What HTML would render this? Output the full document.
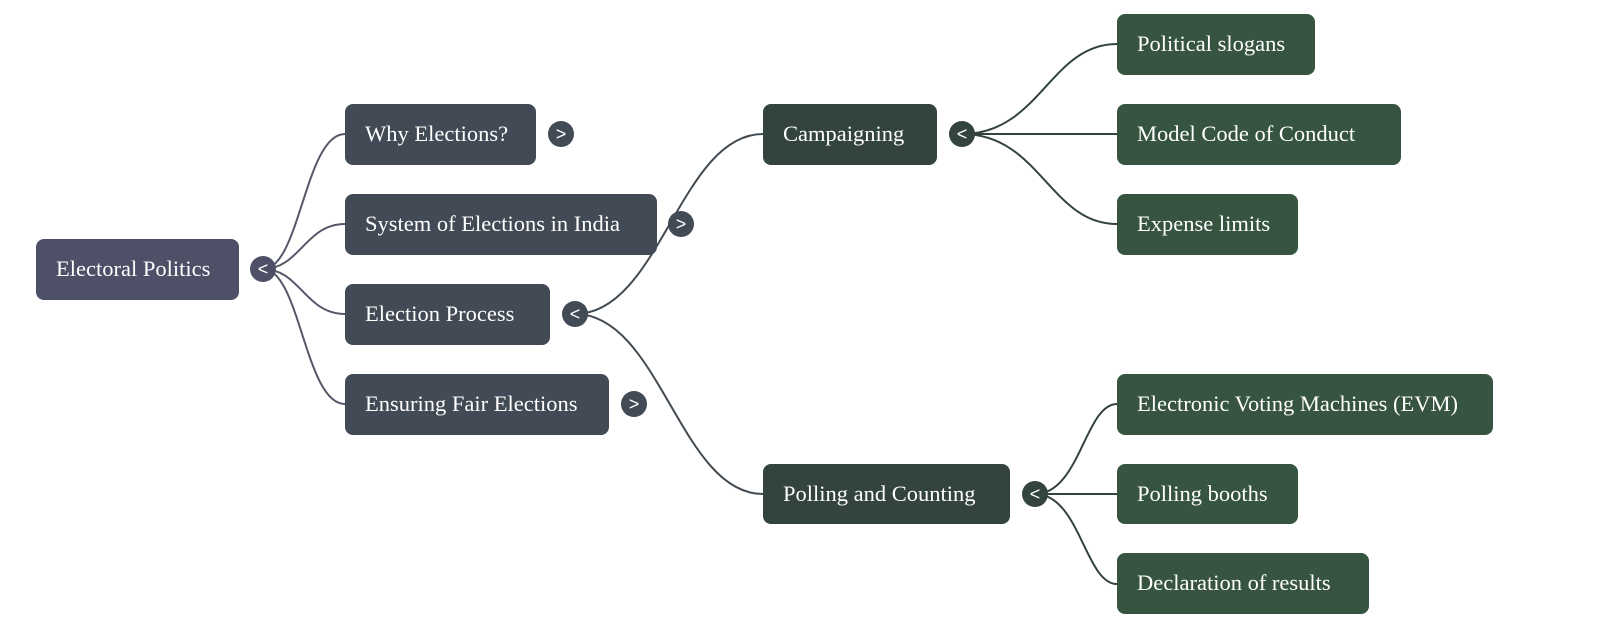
<!DOCTYPE html>
<html><head><meta charset="utf-8"><style>
html,body{margin:0;padding:0;background:#fff;width:1600px;height:642px;overflow:hidden}
text{font-family:"Liberation Serif",serif;font-size:22.5px;fill:#fff}
.b text{font-family:"Liberation Sans",sans-serif;font-size:18px;font-weight:normal}
</style></head><body>
<svg width="1600" height="642" viewBox="0 0 1600 642" xmlns="http://www.w3.org/2000/svg">
<g fill="none" stroke-width="2">
<g stroke="#555869">
<path d="M263 269 C300 269 305 134 345 134"/>
<path d="M263 269 C300 269 305 224 345 224"/>
<path d="M263 269 C300 269 305 314 345 314"/>
<path d="M263 269 C300 269 305 404 345 404"/>
</g>
<g stroke="#424a52">
<path d="M575 314 C660 314 680 134 763 134"/>
<path d="M575 314 C660 314 680 494 763 494"/>
</g>
<g stroke="#33433d">
<path d="M962 134 C1040 134 1050 44 1117 44"/>
<path d="M962 134 L1117 134"/>
<path d="M962 134 C1040 134 1050 224 1117 224"/>
<path d="M1035 494 C1080 494 1085 404 1117 404"/>
<path d="M1035 494 L1117 494"/>
<path d="M1035 494 C1080 494 1085 584 1117 584"/>
</g>
</g>
<rect x="36" y="239" width="203" height="61" rx="8" fill="#4d5066"/>
<text x="56" y="276">Electoral Politics</text>
<g fill="#424a55">
<rect x="345" y="104" width="191" height="61" rx="8"/>
<rect x="345" y="194" width="312" height="61" rx="8"/>
<rect x="345" y="284" width="205" height="61" rx="8"/>
<rect x="345" y="374" width="264" height="61" rx="8"/>
</g>
<text x="365" y="141">Why Elections?</text>
<text x="365" y="231">System of Elections in India</text>
<text x="365" y="321">Election Process</text>
<text x="365" y="411">Ensuring Fair Elections</text>
<g fill="#33433d">
<rect x="763" y="104" width="174" height="61" rx="8"/>
<rect x="763" y="464" width="247" height="60" rx="8"/>
</g>
<text x="783" y="141">Campaigning</text>
<text x="783" y="501">Polling and Counting</text>
<g fill="#36543f">
<rect x="1117" y="14" width="198" height="61" rx="8"/>
<rect x="1117" y="104" width="284" height="61" rx="8"/>
<rect x="1117" y="194" width="181" height="61" rx="8"/>
<rect x="1117" y="374" width="376" height="61" rx="8"/>
<rect x="1117" y="464" width="181" height="60" rx="8"/>
<rect x="1117" y="553" width="252" height="61" rx="8"/>
</g>
<text x="1137" y="51">Political slogans</text>
<text x="1137" y="141">Model Code of Conduct</text>
<text x="1137" y="231">Expense limits</text>
<text x="1137" y="411">Electronic Voting Machines (EVM)</text>
<text x="1137" y="501">Polling booths</text>
<text x="1137" y="590">Declaration of results</text>
<g class="b" text-anchor="middle">
<circle cx="263" cy="269" r="13" fill="#4d5066"/><text x="263" y="275">&lt;</text>
<circle cx="561" cy="134" r="13" fill="#424a55"/><text x="561" y="140">&gt;</text>
<circle cx="681" cy="224" r="13" fill="#424a55"/><text x="681" y="230">&gt;</text>
<circle cx="575" cy="314" r="13" fill="#424a55"/><text x="575" y="320">&lt;</text>
<circle cx="634" cy="404" r="13" fill="#424a55"/><text x="634" y="410">&gt;</text>
<circle cx="962" cy="134" r="13" fill="#33433d"/><text x="962" y="140">&lt;</text>
<circle cx="1035" cy="494" r="13" fill="#33433d"/><text x="1035" y="500">&lt;</text>
</g>
</svg>
</body></html>
